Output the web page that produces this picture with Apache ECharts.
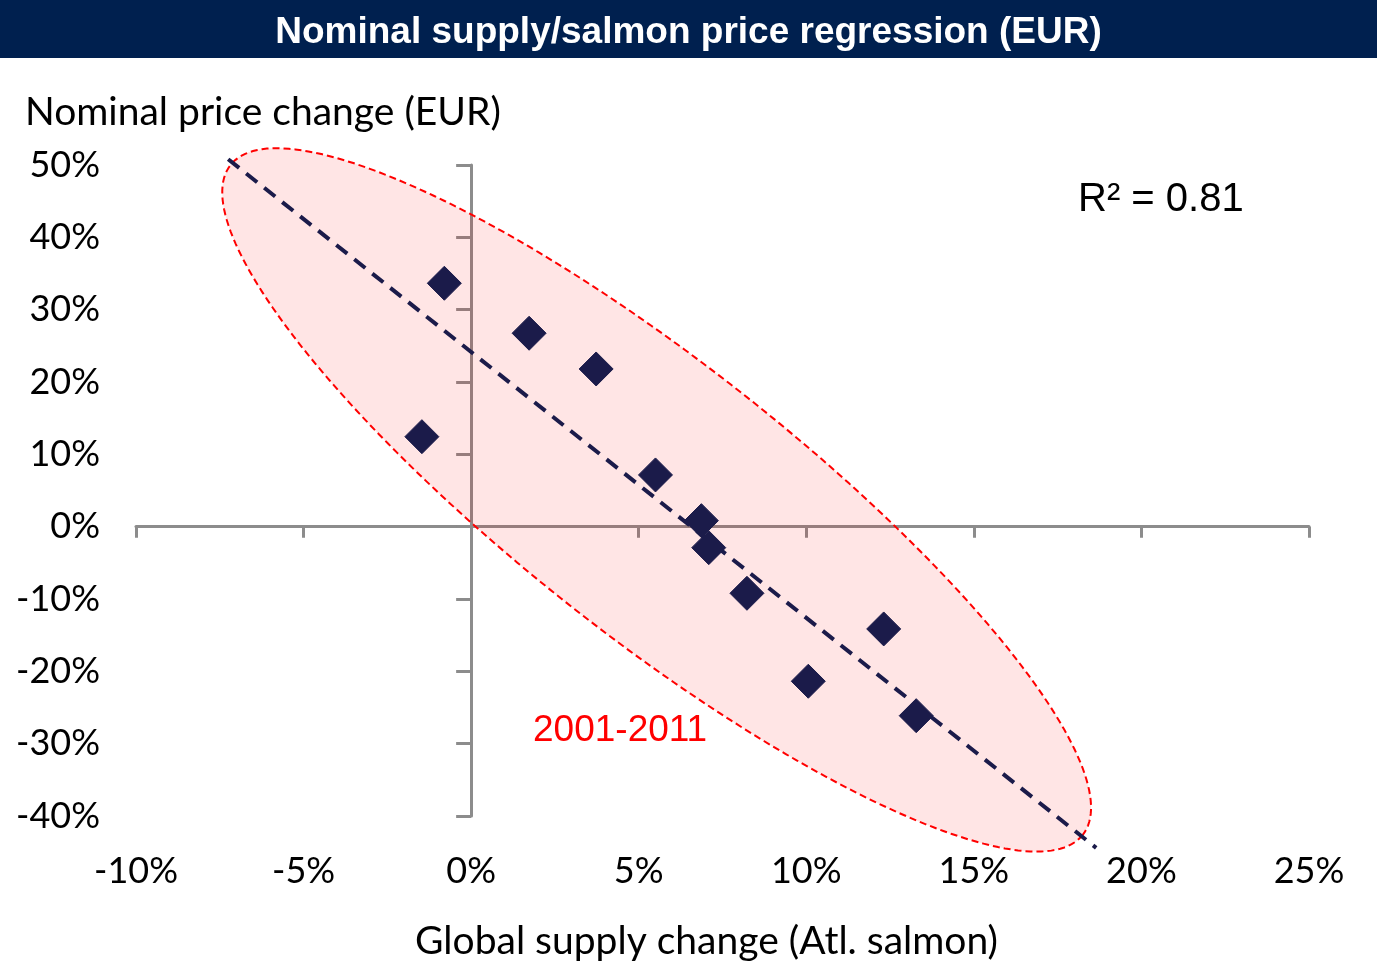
<!DOCTYPE html>
<html>
<head>
<meta charset="utf-8">
<style>
  html, body { margin: 0; padding: 0; background: #ffffff; }
  #chart { width: 1377px; height: 963px; }
</style>
<script src="https://cdn.jsdelivr.net/npm/echarts@6/dist/echarts.min.js"></script>
</head>
<body>
<div id="chart"></div>
<script>
// ---- data (percent) ----
const years = ['2001','2002','2003','2004','2005','2006','2007','2008','2009','2010','2011'];
const supplyChange = [-0.80, -1.47, 1.73, 3.73, 5.50, 6.87, 7.09, 8.23, 10.06, 12.31, 13.28];
const priceChange  = [33.65, 12.44, 26.74, 21.80, 7.15, 0.83, -2.90, -9.21, -21.37, -14.14, -26.13];
const trendX = [-7.25, 18.65];
const trendY = [50.8, -44.4];
const ellipseTipX = [-7.18, 18.25];
const ellipseTipY = [50.0, -42.6];
const xTicks = [-10, -5, 0, 5, 10, 15, 20, 25];
const yTicks = [-40, -30, -20, -10, 0, 10, 20, 30, 40, 50];
const titleText = 'Nominal supply/salmon price regression (EUR)';
const yName = 'Nominal price change (EUR)';
const xName = 'Global supply change (Atl. salmon)';
const r2Text = 'R\u00B2 = 0.81';
const periodText = '2001-2011';

const ELLIPSE_RATIO = 0.252;
const AXIS_GRAY = '#8c8c8c';
const NAVY = '#1b1b4a';
const LABEL_FONT = 'Lato, "Open Sans", sans-serif';

const points = supplyChange.map((x, i) => [x, priceChange[i], years[i]]);
const trend = trendX.map((x, i) => [x, trendY[i]]);
const ellipseData = [[ellipseTipX[0], ellipseTipY[0], ellipseTipX[1], ellipseTipY[1]]];

const xMin = xTicks[0], xMax = xTicks[xTicks.length - 1], xInt = xTicks[1] - xTicks[0];
const yMin = yTicks[0], yMax = yTicks[yTicks.length - 1], yInt = yTicks[1] - yTicks[0];

const chart = echarts.init(document.getElementById('chart'), null, { renderer: 'canvas' });

const option = {
  animation: false,
  backgroundColor: '#ffffff',
  graphic: [
    { type: 'rect', left: 0, top: 0, z: -10, shape: { width: 1377, height: 58 }, style: { fill: '#00204f' } },
    { type: 'text', left: 'center', top: 14, z: 10,
      style: { text: titleText, fill: '#ffffff', font: 'bold 37px "Liberation Sans", Arial, sans-serif' } },
    { type: 'text', left: 25, top: 93, z: 10,
      style: { text: yName, fill: '#000000', font: '39px ' + LABEL_FONT } },
    { type: 'text', left: 1078, top: 180, z: 10,
      style: { text: r2Text, fill: '#000000', font: '40px "Liberation Sans", Arial, sans-serif' } },
    { type: 'text', left: 533, top: 712, z: 10,
      style: { text: periodText, fill: '#ff0000', font: '37px "Liberation Sans", Arial, sans-serif' } }
  ],
  grid: { left: 136, right: 68, top: 165, bottom: 147, containLabel: false, outerBoundsMode: 'none' },
  xAxis: [
    {
      type: 'value', min: xMin, max: xMax, interval: xInt, position: 'bottom',
      axisLine: { show: false, onZero: false }, axisTick: { show: false }, splitLine: { show: false },
      axisLabel: { formatter: '{value}%', margin: 37, color: '#000', fontSize: 36, fontFamily: LABEL_FONT },
      name: xName, nameLocation: 'middle', nameGap: 106,
      nameTextStyle: { color: '#000', fontSize: 39, fontFamily: LABEL_FONT, padding: [0, 32, 0, 0] }
    },
    {
      type: 'value', min: xMin, max: xMax, interval: xInt, position: 'bottom',
      axisLine: { show: true, onZero: true, onZeroAxisIndex: 0, lineStyle: { color: AXIS_GRAY, width: 3 } },
      axisTick: { show: true, length: 11, lineStyle: { color: AXIS_GRAY, width: 3 } },
      axisLabel: { show: false }, splitLine: { show: false }
    }
  ],
  yAxis: [
    {
      type: 'value', min: yMin, max: yMax, interval: yInt, position: 'left',
      axisLine: { show: false, onZero: false }, axisTick: { show: false }, splitLine: { show: false },
      axisLabel: { formatter: '{value}%', margin: 36, color: '#000', fontSize: 36, fontFamily: LABEL_FONT }
    },
    {
      type: 'value', min: yMin, max: yMax, interval: yInt, position: 'left',
      axisLine: { show: true, onZero: true, onZeroAxisIndex: 0, lineStyle: { color: AXIS_GRAY, width: 3 } },
      axisTick: { show: true, length: 15, lineStyle: { color: AXIS_GRAY, width: 3 } },
      axisLabel: { show: false }, splitLine: { show: false }
    }
  ],
  series: [
    {
      type: 'custom', name: 'Period', xAxisIndex: 0, yAxisIndex: 0, z: 2, clip: false,
      encode: { x: [0, 2], y: [1, 3] },
      data: ellipseData, silent: true,
      renderItem: function (params, api) {
        const p1 = api.coord([api.value(0), api.value(1)]);
        const p2 = api.coord([api.value(2), api.value(3)]);
        const cx = (p1[0] + p2[0]) / 2, cy = (p1[1] + p2[1]) / 2;
        const dx = p2[0] - p1[0], dy = p2[1] - p1[1];
        const a = Math.sqrt(dx * dx + dy * dy) / 2;
        const b = a * ELLIPSE_RATIO;
        const ux = dx / (2 * a), uy = dy / (2 * a);
        const pts = [];
        const n = 240;
        for (let i = 0; i < n; i++) {
          const t = i / n * 2 * Math.PI;
          const c = Math.cos(t) * a, s = Math.sin(t) * b;
          pts.push([cx + c * ux - s * uy, cy + c * uy + s * ux]);
        }
        return {
          type: 'polygon', shape: { points: pts },
          style: { fill: 'rgba(255,0,0,0.1)', stroke: '#ff0000', lineWidth: 2, lineDash: [7, 4] }
        };
      }
    },
    {
      type: 'line', name: 'Regression', xAxisIndex: 0, yAxisIndex: 0, z: 3, clip: false,
      data: trend, showSymbol: false, symbol: 'none', silent: true,
      lineStyle: { color: NAVY, width: 4, type: [14, 9] }
    },
    {
      type: 'scatter', name: 'Years', xAxisIndex: 0, yAxisIndex: 0, z: 4, clip: false,
      data: points, symbol: 'diamond', symbolSize: [34, 34],
      itemStyle: { color: NAVY, opacity: 1, borderColor: NAVY, borderWidth: 1, borderJoin: 'round' }
    }
  ]
};
chart.setOption(option);
</script>
</body>
</html>
